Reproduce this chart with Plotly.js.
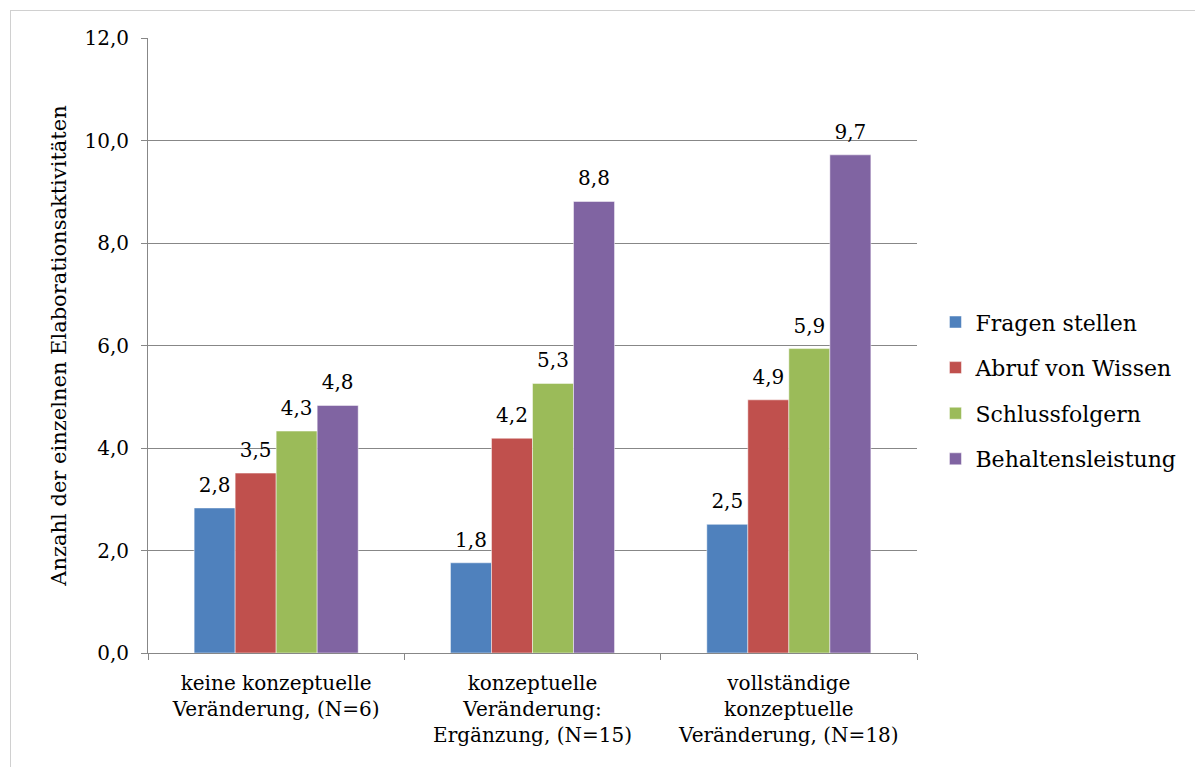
<!DOCTYPE html>
<html><head><meta charset="utf-8">
<script src="https://cdn.plot.ly/plotly-3.0.1.min.js"></script>
<style>
body{margin:0;background:#fff}
#frame{position:absolute;left:10px;top:10px;width:1200px;height:770px;border:1px solid #d0d0d0;pointer-events:none}
#chart text{font-family:"DejaVu Serif",serif !important}
</style>
</head><body>
<div id="chart" style="width:1195px;height:767px"></div>
<div id="frame"></div>
<script>
const categories = ["keine konzeptuelle<br>Veränderung, (N=6)", "konzeptuelle<br>Veränderung:<br>Ergänzung, (N=15)", "vollständige<br>konzeptuelle<br>Veränderung, (N=18)"];
const seriesNames = ["Fragen stellen", "Abruf von Wissen", "Schlussfolgern", "Behaltensleistung"];
const fragen = [2.83, 1.76, 2.51];
const abruf = [3.51, 4.19, 4.94];
const schluss = [4.33, 5.26, 5.94];
const behalten = [4.83, 8.81, 9.72];
const colors = ["#4f81bd", "#c0504d", "#9bbb59", "#8064a2"];
const yTicks = [0, 2, 4, 6, 8, 10, 12];

const font = "DejaVu Serif";
const allVals = [fragen, abruf, schluss, behalten];
const traces = [];
allVals.forEach((v, i) => {
  traces.push({
    type: "bar", x: categories, y: v, name: seriesNames[i], legendgroup: "g" + i,
    marker: {color: colors[i], line: {color: "rgba(255,255,255,0.6)", width: 0.8}}
  });
});
allVals.forEach((v, i) => {
  traces.push({
    type: "scatter", mode: "markers+text", x: categories, y: v, showlegend: false,
    marker: {size: 16, color: "rgba(0,0,0,0)"}, cliponaxis: false,
    texttemplate: "%{y:.1f}", textposition: "top center",
    textfont: {family: font, size: 20, color: "#000"}
  });
});
const layout = {
  width: 1195, height: 767,
  margin: {l: 148, r: 278, t: 38, b: 114},
  separators: ",.",
  barmode: "group", bargap: 0.36, bargroupgap: 0,
  scattermode: "group", scattergap: 0.36,
  paper_bgcolor: "#fff", plot_bgcolor: "#fff",
  font: {family: font, size: 20, color: "#000"},
  xaxis: {showline: true, linecolor: "#878787", linewidth: 1, ticks: "outside", tickson: "boundaries",
          ticklen: 6, tickcolor: "#878787", tickfont: {family: font, size: 20, color: "#000"}, showgrid: false,
          ticklabelstandoff: 12},
  yaxis: {range: [0, 12], tickvals: yTicks, tickformat: ".1f", showline: true, linecolor: "#878787",
          ticks: "outside", ticklen: 6, tickcolor: "#878787", gridcolor: "#878787", gridwidth: 1,
          zeroline: false, tickfont: {family: font, size: 20, color: "#000"}, ticklabelstandoff: 8,
          title: {text: "Anzahl der einzelnen Elaborationsaktivitäten", font: {family: font, size: 21, color: "#000"}, standoff: 12}},
  legend: {x: 1.024, xanchor: "left", y: 0.572, yanchor: "top", traceorder: "grouped", tracegroupgap: 14,
           font: {family: font, size: 22, color: "#000"}, itemwidth: 30},
  showlegend: true
};
Plotly.newPlot("chart", traces, layout, {displayModeBar: false, staticPlot: true});
</script>
</body></html>
